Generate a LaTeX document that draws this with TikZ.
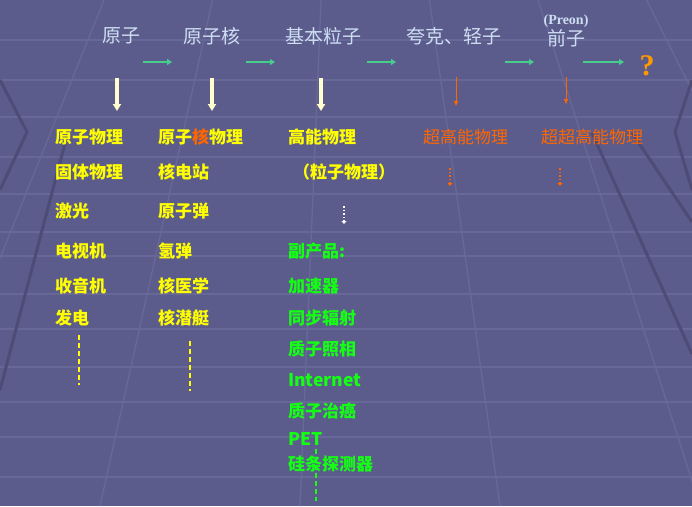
\documentclass[tikz,border=0pt]{standalone}
\usepackage{fontspec}
\usepackage{tikz}
\usetikzlibrary{arrows.meta,positioning}
\setmainfont{Liberation Serif}
\newfontfamily\cjk{Noto Sans CJK SC}
\definecolor{slidebg}{RGB}{92,92,140}
\definecolor{gridlite}{RGB}{104,104,152}
\definecolor{griddark}{RGB}{76,76,118}
\definecolor{pale}{RGB}{205,222,242}
\definecolor{cream}{RGB}{255,255,205}
\definecolor{ylw}{RGB}{255,255,0}
\definecolor{orng}{RGB}{255,102,0}
\definecolor{qorng}{RGB}{255,153,0}
\definecolor{grn}{RGB}{20,255,20}
\definecolor{stepgrn}{RGB}{70,205,140}

\begin{document}
\begin{tikzpicture}[x=1pt,y=-1pt,>=Latex]
\tikzstyle{level}=[text=pale,font=\cjk\fontsize{19}{19}\selectfont,inner sep=0pt]
\tikzstyle{item}=[anchor=west,text=ylw,font=\cjk\bfseries\fontsize{17}{17}\selectfont,inner sep=0pt]
\tikzstyle{far}=[item,text=orng]
\tikzstyle{spin}=[item,text=grn]
\tikzstyle{spinlatin}=[item,text=grn,font=\cjk\bfseries\fontsize{17.5}{17.5}\selectfont]
\tikzstyle{next}=[-{Triangle[length=5pt,width=6pt]},line width=2.6pt,stepgrn]
\tikzstyle{down}=[-{Triangle[length=7pt,width=8pt]},line width=3.2pt,cream]
\tikzstyle{thin}=[-{Triangle[length=5pt,width=4pt]},line width=0.9pt,orng]
\tikzstyle{more}=[-{Triangle[length=3pt,width=5pt]},line width=1.6pt,dotted]
\tikzstyle{trail}=[line width=1.4pt,dashed,dash pattern=on 5pt off 3pt]
% background of the slide
\fill[slidebg] (0,0) rectangle (692,506);
\useasboundingbox (0,0) rectangle (692,506);
\foreach \y in {40,80,117,157,194,232,256,294,329,367,402,437,477}
  \draw[gridlite,line width=1.2pt] (0,\y) -- (692,\y);
\foreach \x in {-500,-300,-100,100,300,500,700,900,1100}
  \draw[gridlite,line width=1.4pt] (346,-600) -- (\x,506);
\draw[griddark,line width=3pt] (0,80) -- (27,132) -- (0,190);
\draw[griddark,line width=3pt] (68,132) -- (0,390);
\draw[griddark,line width=3pt] (592,133) -- (692,354);
\draw[griddark,line width=3pt] (632,133) -- (692,222);
\draw[griddark,line width=3pt] (692,80) -- (675,132) -- (692,190);
% top sequence
\node[level] (atom) at (121,36) {原子};
\node[level] (nucleus) at (212,36) {原子核};
\node[level] (elem) at (323,36) {基本粒子};
\node[level] (quark) at (454,36) {夸克、轻子};
\node[level] (preon) at (566,38) {前子};
\node[text=pale,font=\bfseries\fontsize{14}{14}\selectfont,inner sep=0pt,above=1pt of preon] (preonname) {(Preon)};
\node[text=qorng,font=\bfseries\fontsize{30}{30}\selectfont,inner sep=0pt] (unknown) at (647,66) {?};
\coordinate (n1a) at (143,62); \coordinate (n1b) at (172,62);
\coordinate (n2a) at (246,62); \coordinate (n2b) at (275,62);
\coordinate (n3a) at (367,62); \coordinate (n3b) at (396,62);
\coordinate (n4a) at (505,62); \coordinate (n4b) at (534,62);
\coordinate (n5a) at (583,62); \coordinate (n5b) at (624,62);
\draw[next] (n1a) -- (n1b);
\draw[next] (n2a) -- (n2b);
\draw[next] (n3a) -- (n3b);
\draw[next] (n4a) -- (n4b);
\draw[next] (n5a) -- (n5b);
% first column
\node[item] (c1r1) at (55,137) {原子物理};
\node[item] (c1r2) at (55,172) {固体物理};
\node[item] (c1r3) at (55,211) {激光};
\node[item] (c1r4) at (55,251) {电视机};
\node[item] (c1r5) at (55,286) {收音机};
\node[item] (c1r6) at (55,318) {发电};
% second column
\node[item] (c2r1) at (158,137) {原子{\color{orng}核}物理};
\node[item] (c2r2) at (158,172) {核电站};
\node[item] (c2r3) at (158,211) {原子弹};
\node[item] (c2r4) at (158,251) {氢弹};
\node[item] (c2r5) at (158,286) {核医学};
\node[item] (c2r6) at (158,318) {核潜艇};
% third column
\node[item] (c3r1) at (288,137) {高能物理};
\node[item] (c3r2) at (293,172) {（粒子物理）};
\node[spin] (c3r4) at (288,251) {副产品:};
\node[spin] (c3r5) at (288,286) {加速器};
\node[spin] (c3r6) at (288,318) {同步辐射};
\node[spin] (c3r7) at (288,349) {质子照相};
\node[spinlatin] (c3r8) at (288,380) {Internet};
\node[spin] (c3r9) at (288,411) {质子治癌};
\node[spinlatin] (c3r10) at (288,439) {PET};
\node[spin] (c3r11) at (288,464) {硅条探测器};
% beyond
\node[far,font=\cjk\fontsize{17}{17}\selectfont] (uhe) at (423,137) {超高能物理};
\node[far,font=\cjk\fontsize{17}{17}\selectfont] (uuhe) at (541,137) {超超高能物理};
% down arrows
\coordinate (d1a) at (117,78); \coordinate (d1b) at (117,111);
\coordinate (d2a) at (212,78); \coordinate (d2b) at (212,111);
\coordinate (d3a) at (321,78); \coordinate (d3b) at (321,111);
\coordinate (d4a) at (456,77); \coordinate (d4b) at (456,106);
\coordinate (d5a) at (566,77); \coordinate (d5b) at (566,104);
\draw[down] (d1a) -- (d1b);
\draw[down] (d2a) -- (d2b);
\draw[down] (d3a) -- (d3b);
\draw[thin] (d4a) -- (d4b);
\draw[thin,line width=0.6pt] (d5a) -- (d5b);
% continuations
\coordinate (m3a) at (344,206); \coordinate (m3b) at (344,224);
\coordinate (m4a) at (450,168); \coordinate (m4b) at (450,186);
\coordinate (m5a) at (560,168); \coordinate (m5b) at (560,186);
\draw[more,white] (m3a) -- (m3b);
\draw[more,orng] (m4a) -- (m4b);
\draw[more,orng] (m5a) -- (m5b);
\coordinate (t1a) at (79,335); \coordinate (t1b) at (79,385);
\coordinate (t2a) at (190,341); \coordinate (t2b) at (190,391);
\coordinate (t3a) at (316,449); \coordinate (t3b) at (316,501);
\draw[trail,ylw] (t1a) -- (t1b);
\draw[trail,ylw] (t2a) -- (t2b);
\draw[trail,grn] (t3a) -- (t3b);
\end{tikzpicture}
\end{document}
